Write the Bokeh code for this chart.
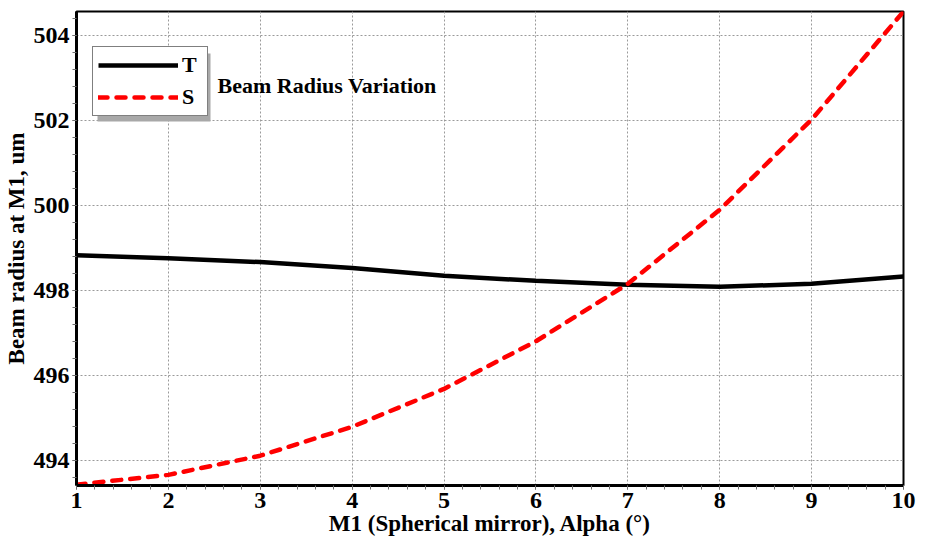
import numpy as np
from bokeh.plotting import figure
from bokeh.models import Legend, LegendItem, Label, BoxAnnotation, FixedTicker, Range1d
from bokeh.embed import file_html
from bokeh.resources import INLINE

# ---- data ----
alpha = [1, 2, 3, 4, 5, 6, 7, 8, 9, 10]
radius_T = [498.83, 498.76, 498.67, 498.53, 498.35, 498.23, 498.14, 498.09, 498.16, 498.33]
radius_S = [493.44, 493.67, 494.12, 494.80, 495.69, 496.81, 498.16, 499.90, 502.02, 504.56]
x_ticks = [1, 2, 3, 4, 5, 6, 7, 8, 9, 10]
y_ticks = [494, 496, 498, 500, 502, 504]
series_labels = ["T", "S"]
title_text = "Beam Radius Variation"
x_label = "M1 (Spherical mirror), Alpha (°)"
y_label = "Beam radius at M1, um"

FONT = "Liberation Serif"

p = figure(width=916, height=542, output_backend="svg", toolbar_location=None,
           x_range=Range1d(1, 10), y_range=Range1d(493.42, 504.56),
           min_border_left=76, min_border_right=13, min_border_top=11, min_border_bottom=57)

p.background_fill_color = "white"
p.border_fill_color = "white"
p.outline_line_color = "black"
p.outline_line_width = 2

# grid
for g in (p.xgrid, p.ygrid):
    g.grid_line_color = "#9a9a9a"
    g.grid_line_dash = "2 2"
    g.grid_line_width = 1

# ticks
p.xaxis.ticker = FixedTicker(ticks=x_ticks, minor_ticks=list(np.arange(1, 10.001, 0.2)))
p.yaxis.ticker = FixedTicker(ticks=y_ticks, minor_ticks=list(np.arange(493.6, 504.5, 0.4)))

for ax in (p.xaxis[0], p.yaxis[0]):
    ax.axis_line_color = "black"
    ax.axis_line_width = 3
    ax.major_tick_line_color = "#707070"
    ax.minor_tick_line_color = "#707070"
    ax.major_tick_in = 0
    ax.major_tick_out = 4
    ax.minor_tick_in = 0
    ax.minor_tick_out = 4
    ax.major_label_text_font = FONT
    ax.major_label_text_font_style = "bold"
    ax.major_label_text_font_size = "24px"
    ax.major_label_text_color = "black"
    ax.axis_label_text_font = FONT
    ax.axis_label_text_font_style = "bold"
    ax.axis_label_text_font_size = "23px"
    ax.axis_label_text_color = "black"

p.xaxis.axis_label = x_label
p.yaxis.axis_label = y_label
p.xaxis.major_label_standoff = 3
p.xaxis.axis_label_standoff = 0
p.yaxis.major_label_standoff = 3
p.yaxis.axis_label_standoff = 2

# lines
rT = p.line(alpha, radius_T, line_color="black", line_width=4.5)
rS = p.line(alpha, radius_S, line_color="red", line_width=4.5, line_dash="9 9", line_cap="round")

# legend shadow
shadow = BoxAnnotation(left=21, right=134, bottom=364, top=432,
                       left_units="screen", right_units="screen",
                       top_units="screen", bottom_units="screen",
                       fill_color="#a8a8a8", fill_alpha=1, line_color=None)
p.add_layout(shadow)

legend = Legend(items=[LegendItem(label=series_labels[0], renderers=[rT]),
                       LegendItem(label=series_labels[1], renderers=[rS])],
                location=(16, 369), orientation="vertical",
                border_line_color="black", border_line_width=1.5,
                background_fill_color="white", background_fill_alpha=1,
                padding=5, spacing=6, margin=0,
                glyph_width=80, glyph_height=24, label_height=24, label_standoff=4,
                label_text_font=FONT, label_text_font_style="bold",
                label_text_font_size="22px", label_text_color="black")
p.add_layout(legend, "center")

title = Label(x=141, y=400, x_units="screen", y_units="screen", text=title_text,
              text_font=FONT, text_font_style="bold", text_font_size="22px",
              text_baseline="middle", text_color="black")
p.add_layout(title)

open("out.html", "w").write(file_html(p, INLINE))
